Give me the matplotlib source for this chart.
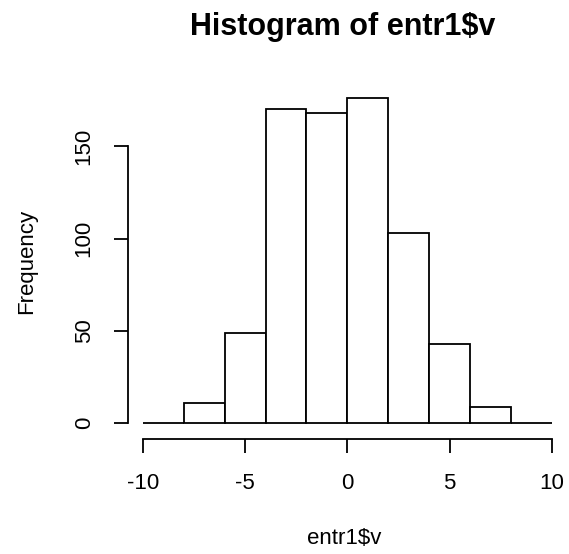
import numpy as np
import matplotlib.pyplot as plt

plt.rcParams['font.family'] = ['Liberation Sans', 'DejaVu Sans']
plt.rcParams['axes.unicode_minus'] = False

# Histogram data (bins of width 2 from -10 to 10)
edges = [-10, -8, -6, -4, -2, 0, 2, 4, 6, 8, 10]
counts = [0, 11, 49, 170, 168, 176, 103, 43, 9, 0]
x_ticks = [-10, -5, 0, 5, 10]
y_ticks = [0, 50, 100, 150]

fig = plt.figure(figsize=(5.69, 5.54), dpi=100)
ax = fig.add_axes([128 / 569, 1 - 439.3 / 554, 440 / 569, (439.3 - 85.5) / 554])

ax.hist(edges[:-1], bins=edges, weights=counts, histtype='bar',
        facecolor='white', edgecolor='black', linewidth=1.3)

ax.set_xlim(-10.72, 10.78)
ax.set_ylim(-8.67, 183)

for s in ['top', 'right']:
    ax.spines[s].set_visible(False)
ax.spines['left'].set_bounds(0, 150)
ax.spines['bottom'].set_bounds(-10, 10)
for s in ['left', 'bottom']:
    ax.spines[s].set_linewidth(1.3)

ax.set_xticks(x_ticks)
ax.set_yticks(y_ticks)
ax.tick_params(axis='both', length=10, width=1.3, labelsize=16, direction='out')
ax.tick_params(axis='x', pad=14)
ax.tick_params(axis='y', pad=14, labelrotation=90)
for lbl in ax.get_yticklabels():
    lbl.set_va('center')

fig.text(343 / 569, 1 - 27 / 554, 'Histogram of entr1$v', ha='center', va='center',
         fontsize=22, fontweight='bold')
fig.text(344 / 569, 1 - 539 / 554, 'entr1$v', ha='center', va='center', fontsize=16)
fig.text(27 / 569, 1 - 261 / 554, 'Frequency', ha='center', va='center', fontsize=16,
         rotation=90)

fig.savefig('out.png', dpi=100)
